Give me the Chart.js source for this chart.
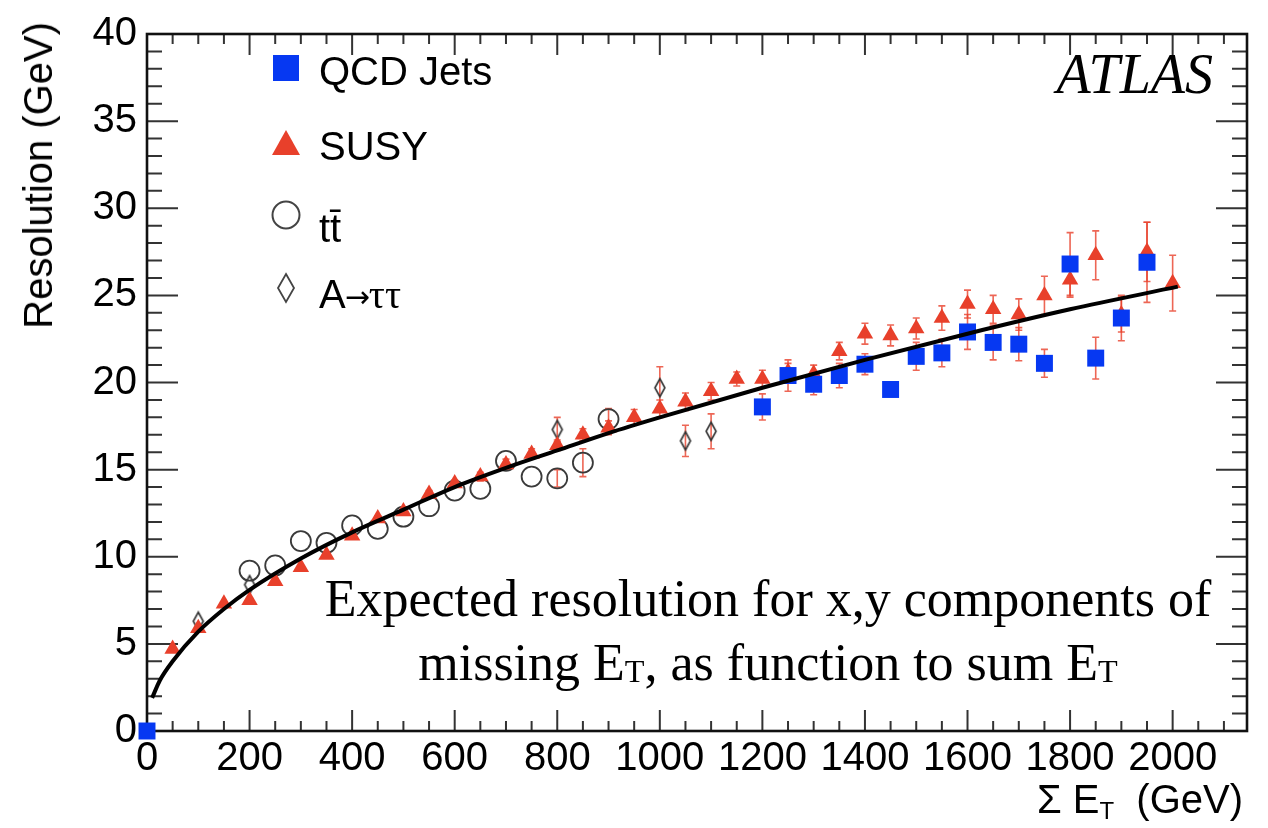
<!DOCTYPE html>
<html>
<head>
<meta charset="utf-8">
<title>Missing ET resolution</title>
<script src="https://cdn.jsdelivr.net/npm/chart.js@4.4.1/dist/chart.umd.min.js"></script>
<style>
  html, body { margin: 0; padding: 0; background: #fff; }
  #wrap { position: relative; width: 1268px; height: 828px; overflow: hidden;
          font-family: "Liberation Sans", Arial, Helvetica, sans-serif; color: #000; }
  #chart { position: absolute; left: 0; top: 0; }
  .lbl { position: absolute; white-space: nowrap; font-size: 40px; line-height: 48px; }
  .lbl sub { font-size: 60%; vertical-align: -0.25em; line-height: 0; }
  #ytitle { left: 38px; top: 22px; transform-origin: 0 0; transform: rotate(-90deg) translate(-100%, -50%); }
  #xtitle { right: 25px; top: 775px; }
  .leg { left: 319px; }
  #atlas { position: absolute; right: 55px; top: 44px; font-family: "Liberation Serif", "Times New Roman", serif;
           font-style: italic; font-size: 56px; line-height: 60px; white-space: nowrap; }
  #note { position: absolute; left: 268px; width: 1000px; top: 567px; text-align: center;
          font-family: "Liberation Serif", "Times New Roman", serif; font-size: 52px; line-height: 64px; }
  #note sub { font-size: 62%; vertical-align: -0.05em; line-height: 0; }
  .tau { font-family: "Liberation Serif", "Times New Roman", serif; }
  .arr { font-family: "DejaVu Sans", sans-serif; font-size: 30px; vertical-align: 0.05em; margin: 0 -1px; }
</style>
</head>
<body>
<div id="wrap">
  <canvas id="chart" width="1268" height="828"></canvas>
  <div class="lbl" id="ytitle">Resolution (GeV)</div>
  <div class="lbl" id="xtitle">Σ E<sub>T</sub>&nbsp;&nbsp;(GeV)</div>
  <div class="lbl leg" style="top:47px">QCD Jets</div>
  <div class="lbl leg" style="top:122px">SUSY</div>
  <div class="lbl leg" style="top:204px">tt&#772;</div>
  <div class="lbl leg" style="top:270px">A<span class="arr">&#8594;</span><span class="tau">ττ</span></div>
  <div id="atlas">ATLAS</div>
  <div id="note">Expected resolution for x,y components of<br>missing E<sub>T</sub>, as function to sum E<sub>T</sub></div>
</div>
<script>
// values (GeV)
const susyX = [50, 100, 150, 200, 250, 300, 350, 400, 450, 500, 550, 600, 650, 700, 750, 800, 850, 900, 950, 1000,
               1050, 1100, 1150, 1200, 1250, 1300, 1350, 1400, 1450, 1500, 1550, 1600, 1650, 1700, 1750, 1800, 1850, 1900, 1950, 2000];
const susyY = [4.7, 5.9, 7.3, 7.5, 8.6, 9.4, 10.1, 11.2, 12.2, 12.6, 13.6, 14.2, 14.6, 15.3, 15.9, 16.4, 17.0, 17.4, 18.0, 18.5,
               18.9, 19.5, 20.2, 20.2, 20.6, 20.5, 21.8, 22.8, 22.7, 23.1, 23.7, 24.5, 24.2, 23.9, 25.0, 25.9, 27.3, 23.9, 27.5, 25.7];
const susyErr = [0.1, 0.1, 0.1, 0.1, 0.1, 0.1, 0.15, 0.15, 0.15, 0.15, 0.2, 0.2, 0.25, 0.3, 0.3, 0.3, 0.35, 0.4, 0.45, 0.5,
                 0.5, 0.5, 0.4, 0.5, 0.5, 0.5, 0.5, 0.6, 0.6, 0.6, 0.7, 0.8, 0.8, 0.9, 1.1, 1.0, 1.4, 1.0, 1.7, 1.6];

const qcdX = [0, 1200, 1250, 1300, 1350, 1400, 1450, 1500, 1550, 1600, 1650, 1700, 1750, 1800, 1850, 1900, 1950];
const qcdY = [0, 18.6, 20.4, 19.9, 20.4, 21.05, 19.6, 21.5, 21.7, 22.9, 22.3, 22.2, 21.1, 26.8, 21.4, 23.7, 26.9];
const qcdErr = [0, 0.75, 0.9, 0.6, 0.7, 0.6, 0.4, 0.8, 0.8, 1.0, 1.0, 0.95, 0.8, 1.8, 1.2, 1.3, 2.3];

const ttX = [200, 250, 300, 350, 400, 450, 500, 550, 600, 650, 700, 750, 800, 850, 900];
const ttY = [9.2, 9.5, 10.9, 10.8, 11.8, 11.6, 12.3, 12.9, 13.8, 13.9, 15.5, 14.6, 14.5, 15.4, 17.9];
const ttErr = [0, 0, 0, 0, 0, 0, 0, 0, 0, 0, 0, 0, 0.5, 0.8, 0.6];

const tauX = [100, 200, 800, 1000, 1050, 1100];
const tauY = [6.3, 8.4, 17.3, 19.7, 16.65, 17.2];
const tauErr = [0, 0, 0.7, 1.2, 0.9, 1.0];

// fitted curve
const fitX = [10, 25, 50, 100, 150, 200, 300, 400, 500, 600, 700, 800, 900, 1000, 1200, 1400, 1600, 1800, 2010];
const fitY = [1.9, 2.9, 4.0, 5.7, 7.0, 8.1, 9.9, 11.4, 12.7, 14.0, 15.1, 16.1, 17.1, 18.0, 19.7, 21.3, 22.8, 24.2, 25.5];

const BLUE = '#0638f2';
const RED = '#e8402b';
const ERR = 'rgba(232,64,43,0.8)';

const pts = (xs, ys) => xs.map((x, i) => ({ x: x, y: ys[i] }));

// narrow open diamond used by ROOT for A->tautau
function diamondImg(w, h, lw) {
    const c = document.createElement('canvas');
    c.width = w + 4; c.height = h + 4;
    const g = c.getContext('2d');
    g.strokeStyle = '#333';
    g.lineWidth = lw;
    g.beginPath();
    g.moveTo(c.width / 2, 2);
    g.lineTo(c.width - 2, c.height / 2);
    g.lineTo(c.width / 2, c.height - 2);
    g.lineTo(2, c.height / 2);
    g.closePath();
    g.stroke();
    return c;
}

const errorBars = {
    id: 'errorBars',
    beforeDatasetsDraw(chart) {
        const { ctx, scales: { x, y } } = chart;
        ctx.save();
        ctx.strokeStyle = ERR;
        ctx.lineWidth = 1.6;
        chart.data.datasets.forEach(ds => {
            if (!ds.errors) return;
            ds.data.forEach((p, i) => {
                const e = ds.errors[i];
                if (!e) return;
                const px = x.getPixelForValue(p.x);
                const top = y.getPixelForValue(p.y + e);
                const bot = y.getPixelForValue(p.y - e);
                ctx.beginPath();
                ctx.moveTo(px, top); ctx.lineTo(px, bot);
                ctx.moveTo(px - 3.5, top); ctx.lineTo(px + 3.5, top);
                ctx.moveTo(px - 3.5, bot); ctx.lineTo(px + 3.5, bot);
                ctx.stroke();
            });
        });
        ctx.restore();
    }
};

// ROOT style frame with inward ticks on all four sides, plus legend markers
const rootFrame = {
    id: 'rootFrame',
    beforeDatasetsDraw(chart) {
        const { ctx, chartArea: a, scales: { x, y } } = chart;
        ctx.save();
        ctx.strokeStyle = '#333';
        ctx.lineWidth = 2;
        ctx.beginPath();
        for (let v = 0; v <= x.max; v += 50) {
            const px = x.getPixelForValue(v);
            const len = v % 200 === 0 ? 21 : 10;
            ctx.moveTo(px, a.bottom); ctx.lineTo(px, a.bottom - len);
            ctx.moveTo(px, a.top); ctx.lineTo(px, a.top + len);
        }
        for (let v = 0; v <= y.max; v += 1) {
            const py = y.getPixelForValue(v);
            const len = v % 5 === 0 ? 31 : 15;
            ctx.moveTo(a.left, py); ctx.lineTo(a.left + len, py);
            ctx.moveTo(a.right, py); ctx.lineTo(a.right - len, py);
        }
        ctx.stroke();
        ctx.strokeStyle = '#111';
        ctx.lineWidth = 2.6;
        ctx.strokeRect(a.left, a.top, a.right - a.left, a.bottom - a.top);

        // legend markers
        ctx.fillStyle = BLUE;
        ctx.fillRect(273, 55, 26, 26);
        ctx.fillStyle = RED;
        ctx.beginPath();
        ctx.moveTo(286, 130); ctx.lineTo(300, 155); ctx.lineTo(272, 155);
        ctx.closePath(); ctx.fill();
        ctx.strokeStyle = '#444';
        ctx.lineWidth = 2;
        ctx.beginPath();
        ctx.arc(286, 215, 13.5, 0, Math.PI * 2);
        ctx.stroke();
        ctx.lineWidth = 1.8;
        ctx.beginPath();
        ctx.moveTo(286, 274); ctx.lineTo(294, 288); ctx.lineTo(286, 302); ctx.lineTo(278, 288);
        ctx.closePath(); ctx.stroke();
        ctx.restore();
    }
};

new Chart(document.getElementById('chart'), {
    type: 'scatter',
    data: {
        datasets: [
            {
                label: 'fit',
                data: pts(fitX, fitY),
                showLine: true,
                borderColor: '#000',
                borderWidth: 4,
                pointRadius: 0,
                cubicInterpolationMode: 'monotone',
                order: 0
            },
            {
                label: 'QCD Jets',
                data: pts(qcdX, qcdY),
                errors: qcdErr,
                pointStyle: 'rect',
                pointRadius: 12,
                backgroundColor: BLUE,
                borderColor: BLUE,
                borderWidth: 0,
                clip: false,
                order: 1
            },
            {
                label: 'SUSY',
                data: pts(susyX, susyY),
                errors: susyErr,
                pointStyle: 'triangle',
                pointRadius: 9.5,
                backgroundColor: RED,
                borderColor: RED,
                borderWidth: 0,
                order: 2
            },
            {
                label: 'tt',
                data: pts(ttX, ttY),
                errors: ttErr,
                pointStyle: 'circle',
                pointRadius: 10,
                backgroundColor: 'rgba(0,0,0,0)',
                borderColor: '#3a3a3a',
                borderWidth: 1.8,
                order: 3
            },
            {
                label: 'A->tautau',
                data: pts(tauX, tauY),
                errors: tauErr,
                pointStyle: diamondImg(10, 18, 1.6),
                pointRadius: 9,
                order: 4
            }
        ]
    },
    options: {
        responsive: false,
        animation: false,
        devicePixelRatio: 1,
        layout: { padding: { top: 22, right: 21, left: 0, bottom: 0 } },
        plugins: { legend: { display: false }, tooltip: { enabled: false } },
        scales: {
            x: {
                type: 'linear',
                min: 0,
                max: 2145,
                grid: { display: false, drawTicks: false },
                border: { display: false },
                ticks: {
                    stepSize: 200,
                    includeBounds: false,
                    padding: 4,
                    maxRotation: 0,
                    autoSkip: false,
                    color: '#000',
                    font: { family: 'Liberation Sans', size: 40 },
                    callback: v => String(v)
                },
                afterFit: s => { s.height = 97; }
            },
            y: {
                min: 0,
                max: 40,
                grid: { display: false, drawTicks: false },
                border: { display: false },
                ticks: {
                    stepSize: 5,
                    padding: 10,
                    color: '#000',
                    font: { family: 'Liberation Sans', size: 40 }
                },
                afterFit: s => { s.width = 147; }
            }
        }
    },
    plugins: [errorBars, rootFrame]
});
</script>
</body>
</html>
